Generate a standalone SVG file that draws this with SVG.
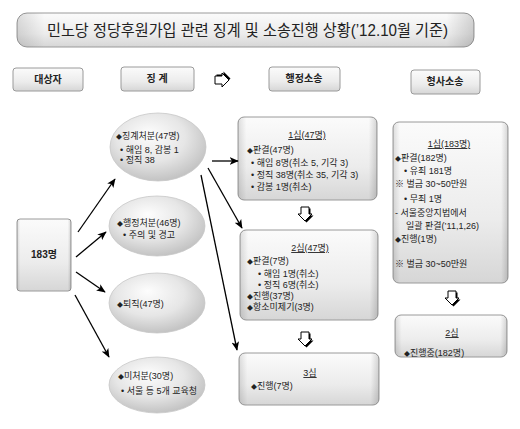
<svg xmlns="http://www.w3.org/2000/svg" width="520" height="429" viewBox="0 0 520 429">
<defs>
<linearGradient id="gBox" x1="0" y1="0" x2="0" y2="1">
<stop offset="0" stop-color="#fbfbfb"/><stop offset="0.6" stop-color="#ececec"/><stop offset="1" stop-color="#d6d6d6"/>
</linearGradient>
<linearGradient id="gSide" x1="0" y1="0" x2="1" y2="0">
<stop offset="0" stop-color="#000" stop-opacity="0.12"/><stop offset="0.06" stop-color="#000" stop-opacity="0"/><stop offset="0.94" stop-color="#000" stop-opacity="0"/><stop offset="1" stop-color="#000" stop-opacity="0.15"/>
</linearGradient>
<radialGradient id="gEll" cx="0.45" cy="0.4" r="0.65" fx="0.4" fy="0.3">
<stop offset="0" stop-color="#fdfdfd"/><stop offset="0.55" stop-color="#e6e6e6"/><stop offset="1" stop-color="#bdbdbd"/>
</radialGradient>
<marker id="ah" viewBox="0 0 12 10" refX="11" refY="5" markerWidth="9" markerHeight="8" markerUnits="userSpaceOnUse" orient="auto">
<path d="M0,0 L12,5 L0,10 L3,5 z" fill="#000"/>
</marker>
<g id="downArrow">
<path d="M-4,-7 H4 V0 H7 L0,7 L-7,0 H-4 Z" transform="translate(1.5,1.5)" fill="#000"/>
<path d="M-4,-7 H4 V0 H7 L0,7 L-7,0 H-4 Z" fill="#fff" stroke="#000" stroke-width="1"/>
</g>
</defs>
<style>
text{font-family:"Liberation Sans","Noto Sans CJK KR",sans-serif;fill:#222;}
.b{font-size:9px;}
.hd{font-size:10px;font-weight:bold;text-anchor:middle;}
.box{fill:url(#gBox);stroke:#9a9a9a;stroke-width:1;}
.side{fill:url(#gSide);stroke:none;}
.ell{fill:url(#gEll);stroke:#c8c8c8;stroke-width:0.8;}
.con{stroke:#000;stroke-width:1.3;fill:none;marker-end:url(#ah);}
.u{text-decoration:underline;text-anchor:middle;}
.dm{font-size:6px;}
</style>

<g id="title">
<rect x="17" y="13" width="457" height="34" rx="10" class="box" stroke="#8a8a8a"/>
<rect x="17" y="13" width="457" height="34" rx="10" class="side"/>
<text x="47" y="36" font-size="16" textLength="401" lengthAdjust="spacingAndGlyphs" fill="#333">민노당 정당후원가입 관련 징계 및 소송진행 상황(’12.10월 기준)</text>
</g>

<g id="h-target">
<rect x="13" y="68" width="70" height="23" rx="3" class="box" stroke="#bbb"/>
<text x="48" y="83" class="hd">대상자</text>
</g>
<g id="h-discipline">
<rect x="121" y="67" width="73" height="24" rx="3" class="box" stroke="#bbb"/>
<text x="157" y="82" class="hd">징 계</text>
</g>
<g id="h-arrow">
<g transform="translate(222,80) rotate(-90)"><use href="#downArrow"/></g>
</g>
<g id="h-admin">
<rect x="269" y="67" width="71" height="24" rx="3" class="box" stroke="#bbb"/>
<text x="304" y="82" class="hd">행정소송</text>
</g>
<g id="h-criminal">
<rect x="411" y="70" width="69" height="24" rx="3" class="box" stroke="#bbb"/>
<text x="445" y="85" class="hd">형사소송</text>
</g>

<g id="n183">
<rect x="17" y="219" width="54" height="72" rx="3" class="box"/>
<rect x="17" y="219" width="54" height="72" rx="3" class="side"/>
<text x="44" y="258" class="hd" font-size="10">183명</text>
</g>

<g id="e-discipline">
<ellipse cx="158" cy="147" rx="48" ry="34" class="ell"/>
<text x="116" y="139" class="b"><tspan class="dm">◆</tspan>징계처분(47명)</text>
<text x="120" y="153" class="b">• 해임 8, 감봉 1</text>
<text x="120" y="163" class="b">• 정직 38</text>
</g>
<g id="e-admin">
<ellipse cx="157" cy="226" rx="48" ry="30" class="ell"/>
<text x="117" y="226" class="b"><tspan class="dm">◆</tspan>행정처분(46명)</text>
<text x="123" y="238" class="b">• 주의 및 경고</text>
</g>
<g id="e-retire">
<ellipse cx="157" cy="303" rx="48" ry="30" class="ell"/>
<text x="117" y="307" class="b"><tspan class="dm">◆</tspan>퇴직(47명)</text>
</g>
<g id="e-none">
<ellipse cx="157" cy="385" rx="48" ry="28" class="ell"/>
<text x="118" y="379" class="b"><tspan class="dm">◆</tspan>미처분(30명)</text>
<text x="121" y="394" class="b">• 서울 등 5개 교육청</text>
</g>

<g id="a1">
<rect x="238" y="117" width="139" height="83" rx="6" class="box"/>
<rect x="238" y="117" width="139" height="83" rx="6" class="side"/>
<text x="307" y="138" class="b u">1심(47명)</text>
<text x="247" y="153" class="b"><tspan class="dm">◆</tspan>판결(47명)</text>
<text x="251" y="166" class="b">• 해임 8명(취소 5, 기각 3)</text>
<text x="251" y="178" class="b">• 정직 38명(취소 35, 기각 3)</text>
<text x="251" y="190" class="b">• 감봉 1명(취소)</text>
</g>
<g id="a2">
<rect x="240" y="230" width="138" height="90" rx="6" class="box"/>
<rect x="240" y="230" width="138" height="90" rx="6" class="side"/>
<text x="310" y="251" class="b u">2심(47명)</text>
<text x="247" y="264" class="b"><tspan class="dm">◆</tspan>판결(7명)</text>
<text x="258" y="277" class="b">• 해임 1명(취소)</text>
<text x="258" y="288" class="b">• 정직 6명(취소)</text>
<text x="247" y="299" class="b"><tspan class="dm">◆</tspan>진행(37명)</text>
<text x="247" y="310" class="b"><tspan class="dm">◆</tspan>항소미제기(3명)</text>
</g>
<g id="a3">
<rect x="239" y="353" width="140" height="52" rx="6" class="box"/>
<rect x="239" y="353" width="140" height="52" rx="6" class="side"/>
<text x="310" y="376" class="b u">3심</text>
<text x="251" y="389" class="b"><tspan class="dm">◆</tspan>진행(7명)</text>
</g>
<g id="c1">
<rect x="393" y="122" width="115" height="161" rx="6" class="box"/>
<rect x="393" y="122" width="115" height="161" rx="6" class="side"/>
<text x="449" y="147" class="b u">1심(183명)</text>
<text x="395" y="161" class="b"><tspan class="dm">◆</tspan>판결(182명)</text>
<text x="404" y="174" class="b">• 유죄 181명</text>
<text x="395" y="187" class="b">※ 벌금 30~50만원</text>
<text x="404" y="202" class="b">• 무죄 1명</text>
<text x="395" y="216" class="b">- 서울중앙지법에서</text>
<text x="406" y="229" class="b">일괄 판결(’11,1,26)</text>
<text x="395" y="242" class="b"><tspan class="dm">◆</tspan>진행(1명)</text>
<text x="395" y="267" class="b">※ 벌금 30~50만원</text>
</g>
<g id="c2">
<rect x="395" y="315" width="112" height="42" rx="6" class="box"/>
<rect x="395" y="315" width="112" height="42" rx="6" class="side"/>
<text x="452" y="336" class="b u">2심</text>
<text x="404" y="356" class="b"><tspan class="dm">◆</tspan>진행중(182명)</text>
</g>

<g id="connectors">
<line x1="78" y1="232" x2="115" y2="179" class="con"/>
<line x1="76" y1="257" x2="106" y2="232" class="con"/>
<line x1="76" y1="272" x2="105" y2="292" class="con"/>
<line x1="75" y1="295" x2="109" y2="357" class="con"/>
<line x1="212" y1="161" x2="238" y2="161" class="con"/>
<line x1="208" y1="168" x2="242" y2="228" class="con"/>
<line x1="201" y1="175" x2="237" y2="350" class="con" stroke-width="1"/>
<use href="#downArrow" x="305" y="214"/>
<use href="#downArrow" x="305" y="339"/>
<use href="#downArrow" x="452" y="298"/>
</g>
</svg>
